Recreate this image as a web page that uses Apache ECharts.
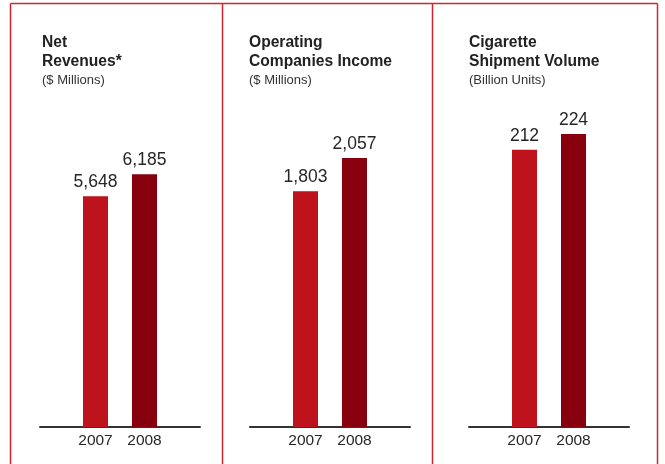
<!DOCTYPE html>
<html>
<head>
<meta charset="utf-8">
<title>2007–2008 Results</title>
<script src="https://cdn.jsdelivr.net/npm/echarts@6/dist/echarts.min.js"></script>
<style>
  html, body { margin: 0; padding: 0; background: #ffffff; }
  #chart { width: 665px; height: 464px; }
</style>
</head>
<body>
<div id="chart"></div>
<script>
// Years shown on every panel
const years = ['2007', '2008'];

// Panel headings
const titles = [
  'Net\nRevenues*',
  'Operating\nCompanies Income',
  'Cigarette\nShipment Volume'
];
const units = ['($ Millions)', '($ Millions)', '(Billion Units)'];

// Values per panel, 2007 then 2008
const netRevenues = [5648, 6185];
const operatingIncome = [1803, 2057];
const shipmentVolume = [212, 224];

// Upper end of each panel's value scale
const scaleMax = [8000, 2500, 250];

const panelValues = [netRevenues, operatingIncome, shipmentVolume];
const barColors = ['#be121c', '#88000e'];

// Horizontal layout of each panel (bar band and baseline span)
const barLefts = [71, 281, 500];
const lineLefts = [40, 250, 469];
const titleLefts = [42, 249, 469];

const plotTop = 100;
const plotBottom = 37;

const chart = echarts.init(document.getElementById('chart'), null, { renderer: 'canvas' });

const grids = [], xAxes = [], yAxes = [], series = [], titleList = [];

panelValues.forEach((vals, p) => {
  titleList.push({
    text: titles[p],
    subtext: units[p],
    left: titleLefts[p],
    top: 33,
    padding: 0,
    itemGap: 2,
    textStyle: {
      fontFamily: 'Liberation Sans, Arial, sans-serif',
      fontSize: 15.6,
      fontWeight: 'bold',
      color: '#222222',
      lineHeight: 19
    },
    subtextStyle: {
      fontFamily: 'Liberation Sans, Arial, sans-serif',
      fontSize: 13,
      color: '#333333',
      lineHeight: 14
    }
  });

  // grid holding the bars and year labels
  const gBar = grids.length;
  grids.push({ left: barLefts[p], width: 98, top: plotTop, bottom: plotBottom });
  xAxes.push({
    type: 'category',
    gridIndex: gBar,
    data: years,
    axisLine: { show: false },
    axisTick: { show: false },
    axisLabel: {
      margin: 6,
      fontFamily: 'Liberation Sans, Arial, sans-serif',
      fontSize: 15.5,
      color: '#262626'
    }
  });
  yAxes.push({
    type: 'value',
    gridIndex: gBar,
    min: 0,
    max: scaleMax[p],
    show: false,
    splitLine: { show: false }
  });
  series.push({
    type: 'bar',
    xAxisIndex: xAxes.length - 1,
    yAxisIndex: yAxes.length - 1,
    barWidth: 25,
    data: vals.map((v, i) => ({ value: v, itemStyle: { color: barColors[i] } })),
    label: {
      show: true,
      position: 'top',
      distance: 5,
      fontFamily: 'Liberation Sans, Arial, sans-serif',
      fontSize: 17.5,
      color: '#262626',
      formatter: (d) => d.value.toLocaleString('en-US')
    },
    silent: true
  });

  // wider grid that only carries the baseline
  const gLine = grids.length;
  grids.push({ left: lineLefts[p], width: 160, top: plotTop, bottom: plotBottom });
  xAxes.push({
    type: 'category',
    gridIndex: gLine,
    data: years,
    axisLine: { show: true, lineStyle: { color: '#333333', width: 2 } },
    axisTick: { show: false },
    axisLabel: { show: false }
  });
  yAxes.push({ type: 'value', gridIndex: gLine, min: 0, max: scaleMax[p], show: false, splitLine: { show: false } });
});

// Red frame around and between the panels
const frameColor = '#cf2630';
const frame = [
  { type: 'line', shape: { x1: 10.5, y1: 3.5, x2: 657.5, y2: 3.5 } },
  { type: 'line', shape: { x1: 10.5, y1: 3.5, x2: 10.5, y2: 464 } },
  { type: 'line', shape: { x1: 222.5, y1: 3.5, x2: 222.5, y2: 464 } },
  { type: 'line', shape: { x1: 432.5, y1: 3.5, x2: 432.5, y2: 464 } },
  { type: 'line', shape: { x1: 657.5, y1: 3.5, x2: 657.5, y2: 464 } }
].map(g => Object.assign(g, { silent: true, style: { stroke: frameColor, lineWidth: 1.5 } }));

chart.setOption({
  backgroundColor: '#ffffff',
  animation: false,
  title: titleList,
  grid: grids,
  xAxis: xAxes,
  yAxis: yAxes,
  series: series,
  graphic: frame
});
</script>
</body>
</html>
